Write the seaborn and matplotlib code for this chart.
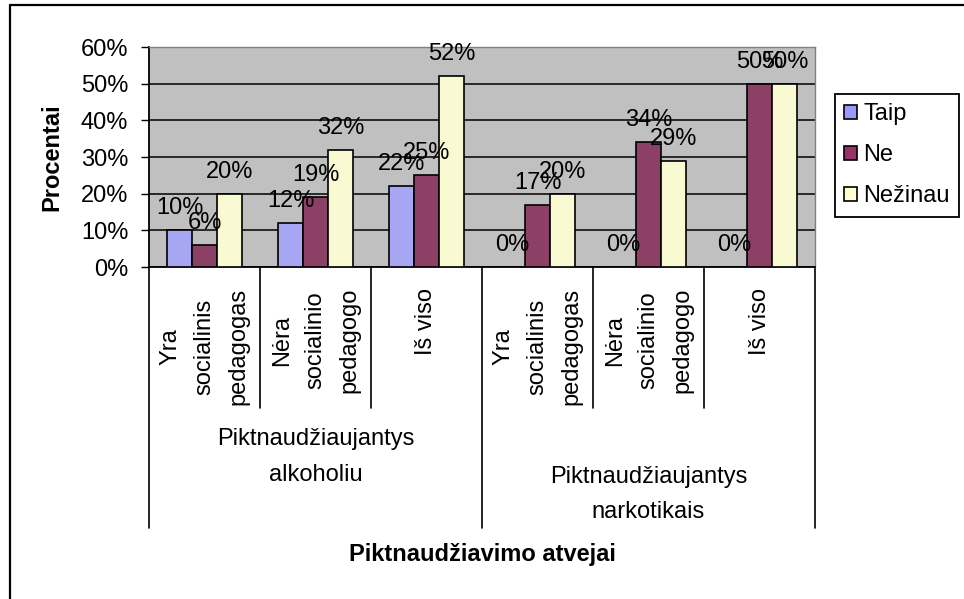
import pandas as pd
import seaborn as sns
import matplotlib.pyplot as plt
from matplotlib.patches import Patch
from matplotlib.lines import Line2D

# Duomenys (procentai)
kategorijos = ["Yra\nsocialinis\npedagogas", "Nėra\nsocialinio\npedagogo", "Iš viso",
               "Yra\nsocialinis\npedagogas", "Nėra\nsocialinio\npedagogo", "Iš viso"]
grupes = ["Piktnaudžiaujantys\nalkoholiu", "Piktnaudžiaujantys\nnarkotikais"]
serijos = ["Taip", "Ne", "Nežinau"]
taip = [10, 12, 22, 0, 0, 0]
ne = [6, 19, 25, 17, 34, 50]
nezinau = [20, 32, 52, 20, 29, 50]
y_ticks = [0, 10, 20, 30, 40, 50, 60]
spalvos = ["#9999FF", "#993366", "#FFFFCC"]

sns.set_style("white")
plt.rcParams['font.family'] = ['Liberation Sans', 'DejaVu Sans']
plt.rcParams['text.color'] = 'black'
plt.rcParams['axes.labelcolor'] = 'black'
plt.rcParams['xtick.color'] = 'black'
plt.rcParams['ytick.color'] = 'black'
FS = 17

# Lentele seaborn'ui
poz = [f"k{i}" for i in range(len(kategorijos))]
df = pd.DataFrame({
    'poz': poz * 3,
    'reiksme': taip + ne + nezinau,
    'serija': [s for s in serijos for _ in poz],
})

fig = plt.figure(figsize=(9.64, 5.99), dpi=100)
ax = fig.add_axes([149 / 964, 332 / 599, 666 / 964, 220 / 599])
ax.set_facecolor('#C0C0C0')

sns.barplot(data=df, x='poz', y='reiksme', hue='serija', order=poz, hue_order=serijos,
            palette=spalvos, width=0.675, edgecolor='black', linewidth=1.2,
            legend=False, ax=ax, zorder=3)

# Reiksmiu uzrasai virs stulpeliu
for cont, vals in zip(ax.containers, [taip, ne, nezinau]):
    ax.bar_label(cont, labels=[f"{v}%" for v in vals], padding=8, fontsize=FS, color='black')

ax.set_ylim(0, 60)
ax.set_xlim(-0.5, len(kategorijos) - 0.5)
ax.set_yticks(y_ticks)
ax.set_yticklabels([f"{v}%" for v in y_ticks])
ax.yaxis.grid(True, color='black', linewidth=1.1)
ax.set_axisbelow(True)

ax.set_xticks(range(len(kategorijos)))
ax.set_xticklabels(kategorijos, rotation=90, va='top', ha='center',
                   multialignment='center', linespacing=1.68)
ax.tick_params(axis='x', length=0, pad=15, labelsize=FS)
ax.tick_params(axis='y', length=6, width=1, direction='out', pad=9, labelsize=FS, left=True)

for side in ['left', 'bottom']:
    ax.spines[side].set_color('black')
    ax.spines[side].set_linewidth(1.3)
for side in ['top', 'right']:
    ax.spines[side].set_color('#808080')
    ax.spines[side].set_linewidth(1.0)

# Kategoriju skirtukai po asimi
trans = ax.get_xaxis_transform()
for i in range(len(kategorijos) + 1):
    ilgas = i % 3 == 0
    ax.plot([i - 0.5, i - 0.5], [0, -1.186 if ilgas else -0.641], transform=trans,
            clip_on=False, color='black', linewidth=1.2)

# Grupiu pavadinimai
ax.text(1, -0.864, grupes[0], transform=trans, ha='center', va='center',
        multialignment='center', fontsize=FS, linespacing=1.8)
ax.text(4, -1.034, grupes[1], transform=trans, ha='center', va='center',
        multialignment='center', fontsize=FS, linespacing=1.8)

ax.set_xlabel('Piktnaudžiavimo atvejai', fontsize=FS, fontweight='bold')
ax.xaxis.set_label_coords(0.5, -1.309)
ax.xaxis.label.set_va('center')
ax.set_ylabel('Procentai', fontsize=FS, fontweight='bold')
ax.yaxis.set_label_coords(-0.146, 0.5)
ax.yaxis.label.set_va('center')

# Legenda
rankenos = [Patch(facecolor=c, edgecolor='black', linewidth=1.2, label=s)
            for s, c in zip(serijos, spalvos)]
leg = fig.legend(handles=rankenos, loc='upper left', bbox_to_anchor=(835 / 964, 1 - 94 / 599),
                 frameon=True, fancybox=False, edgecolor='black', framealpha=1,
                 handlelength=0.55, handleheight=0.55, handletextpad=0.25,
                 labelspacing=0.8, borderpad=0.4, borderaxespad=0, fontsize=FS)
leg.get_frame().set_linewidth(1.3)

# Diagramos remelis
fig.add_artist(Line2D([10 / 964, 10 / 964], [0, 1 - 5 / 599], transform=fig.transFigure,
                      color='black', linewidth=1.6))
fig.add_artist(Line2D([10 / 964, 1], [1 - 5 / 599, 1 - 5 / 599], transform=fig.transFigure,
                      color='black', linewidth=1.6))

fig.savefig('out.png', dpi=100)
